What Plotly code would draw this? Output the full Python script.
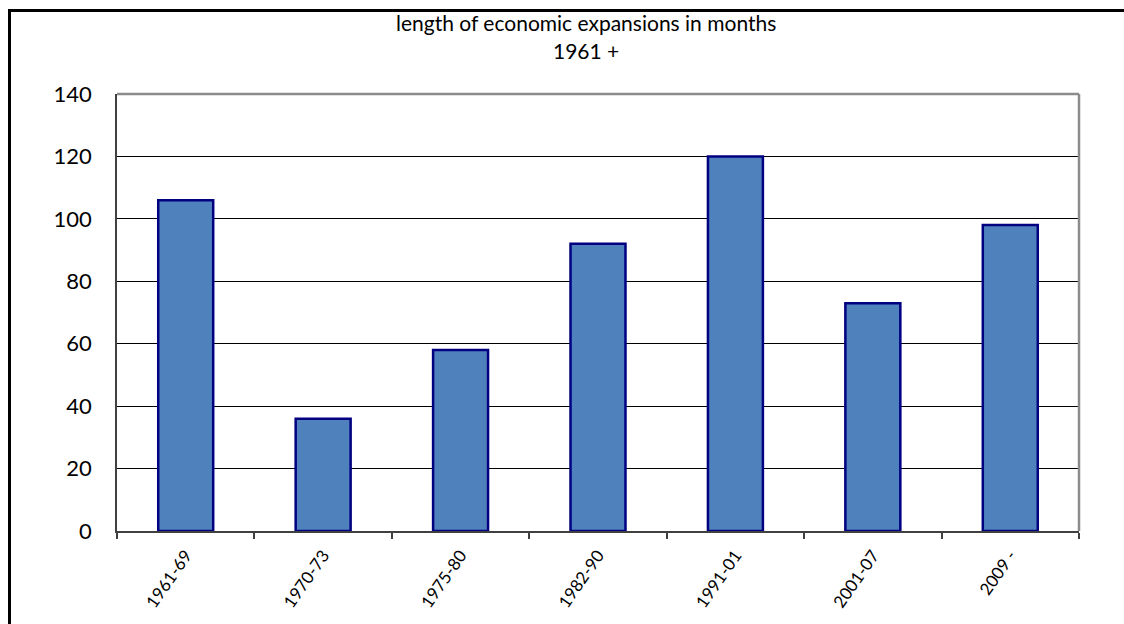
import plotly.graph_objects as go

categories = ["1961-69", "1970-73", "1975-80", "1982-90", "1991-01", "2001-07", "2009 -"]
months = [106, 36, 58, 92, 120, 73, 98]
y_ticks = [0, 20, 40, 60, 80, 100, 120, 140]
title_lines = ["length of economic expansions in months", "1961 +"]

FONT = "Lato, Carlito, Calibri, sans-serif"

fig = go.Figure()
fig.add_trace(go.Bar(
    x=categories, y=months,
    marker=dict(color="#4F81BD", line=dict(color="#000080", width=2.5)),
    width=0.4,
))

L, R, T, B = 117, 45, 94, 93
W, H = 1124, 624
pw = W - L - R
ph = H - T - B

def px_x(p):
    return (p - L) / pw

def px_y(p):
    return (H - B - p) / ph

annotations = [
    dict(text=title_lines[0], xref="paper", yref="paper", x=px_x(586), y=px_y(22),
         xanchor="center", yanchor="middle", showarrow=False,
         font=dict(size=21, family=FONT, color="black")),
    dict(text=title_lines[1], xref="paper", yref="paper", x=px_x(586), y=px_y(50),
         xanchor="center", yanchor="middle", showarrow=False,
         font=dict(size=21, family=FONT, color="black")),
]

fig.update_layout(
    width=W, height=H,
    margin=dict(l=L, r=R, t=T, b=B),
    paper_bgcolor="white", plot_bgcolor="white",
    showlegend=False,
    font=dict(family=FONT, color="black"),
    annotations=annotations,
    xaxis=dict(
        type="category", tickson="boundaries", ticks="outside", ticklen=6,
        tickcolor="#404040", tickwidth=1.5, showline=True, linecolor="#404040",
        linewidth=1.5, showgrid=False, tickangle=-55,
        tickfont=dict(size=17, family=FONT, color="black"),
        ticklabelstandoff=6,
    ),
    yaxis=dict(
        range=[0, 140], tickvals=y_ticks, showgrid=True, gridcolor="black",
        gridwidth=1, showline=True, linecolor="#404040", linewidth=1.5,
        ticks="outside", ticklen=19, tickcolor="rgba(0,0,0,0)",
        tickfont=dict(size=22, family=FONT, color="black"), zeroline=False,
    ),
    shapes=[
        dict(type="line", xref="paper", yref="paper", x0=0, x1=1, y0=1, y1=1,
             line=dict(color="#8C8C8C", width=2.5)),
        dict(type="line", xref="paper", yref="paper", x0=1, x1=1, y0=0, y1=1,
             line=dict(color="#8C8C8C", width=2.5)),
        dict(type="rect", xref="paper", yref="paper",
             x0=px_x(9.5), x1=px_x(1140), y0=px_y(650), y1=px_y(10.5),
             line=dict(color="black", width=3), layer="above"),
    ],
)

fig.write_html("out.html")
